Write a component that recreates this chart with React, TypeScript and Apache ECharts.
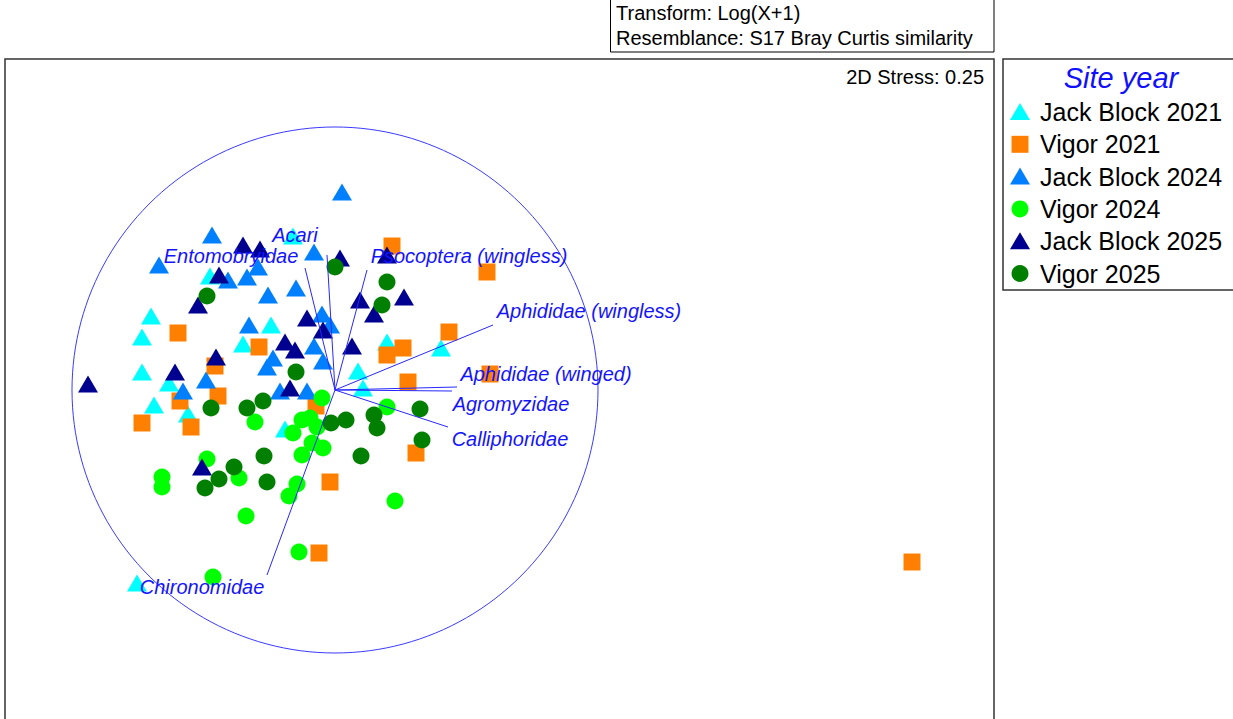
import React, { useEffect, useRef } from 'react';
import * as echarts from 'echarts';

// nMDS ordination coordinates (circle of radius 2.63 centred on the origin)
const seriesNames = ['Jack Block 2021', 'Vigor 2021', 'Jack Block 2024', 'Vigor 2024', 'Jack Block 2025', 'Vigor 2025'];
const seriesColors = ['#00ffff', '#ff8000', '#0080ff', '#00ff00', '#000090', '#007f00'];
const seriesSymbols = ['triangle', 'rect', 'triangle', 'circle', 'triangle', 'circle'];

const jackBlock2021 = [
  [-0.42, 1.54], [-1.25, 1.14], [-1.84, 0.74], [-1.93, 0.53], [-1.93, 0.18], [-1.66, 0.07],
  [-1.81, -0.15], [-1.47, -0.24], [-0.92, 0.46], [-0.64, 0.65], [0.52, 0.48], [1.06, 0.42],
  [0.23, 0.19], [0.28, 0.02], [-0.50, -0.39], [-1.98, -1.93],
];
const vigor2021 = [
  [0.57, 1.44], [1.52, 1.18], [1.14, 0.58], [-1.57, 0.57], [0.68, 0.42], [0.52, 0.35],
  [0.73, 0.08], [1.55, 0.16], [-0.76, 0.43], [-1.20, 0.24], [-1.17, -0.06], [-1.55, -0.11],
  [-1.93, -0.33], [-1.44, -0.37], [-0.19, -0.16], [0.81, -0.63], [-0.05, -0.92], [-0.16, -1.63],
  [5.77, -1.72],
];
const jackBlock2024 = [
  [0.07, 1.98], [-1.23, 1.55], [-1.76, 1.25], [-0.21, 1.38], [-0.77, 1.23], [-1.07, 1.10],
  [-0.88, 1.13], [-0.67, 0.95], [-0.39, 1.02], [-0.86, 0.65], [-0.13, 0.76], [-0.05, 0.65],
  [-0.21, 0.44], [-0.62, 0.32], [-0.68, 0.23], [-0.12, 0.29], [-0.55, -0.01], [-0.28, -0.01],
  [-1.29, 0.10], [-1.52, -0.01],
];
const vigor2024 = [
  [-0.13, -0.08], [-0.80, -0.32], [0.52, -0.17], [-0.33, -0.30], [-0.25, -0.28], [-0.18, -0.37],
  [-0.42, -0.43], [-0.23, -0.53], [-0.12, -0.58], [-0.33, -0.65], [-1.28, -0.69], [-1.73, -0.87],
  [-1.73, -0.97], [-0.96, -0.88], [-0.38, -0.94], [-0.46, -1.06], [0.60, -1.11], [-0.89, -1.26],
  [-0.36, -1.62], [-1.22, -1.87],
];
const jackBlock2025 = [
  [-2.47, 0.06], [-0.92, 1.45], [-0.75, 1.41], [-1.16, 1.15], [0.05, 1.32], [0.52, 1.35],
  [-1.37, 0.85], [-0.28, 0.72], [-0.12, 0.60], [0.25, 0.90], [0.39, 0.76], [0.69, 0.93],
  [0.17, 0.44], [-0.50, 0.48], [-0.40, 0.40], [-0.45, 0.02], [-1.60, 0.18], [-1.19, 0.33],
  [-1.33, -0.77],
];
const vigor2025 = [
  [0.00, 1.23], [-1.28, 0.94], [0.52, 1.08], [0.47, 0.85], [-0.39, 0.18], [-1.24, -0.18],
  [-0.88, -0.18], [-0.72, -0.11], [-0.04, -0.33], [0.11, -0.30], [0.39, -0.25], [0.42, -0.38],
  [0.85, -0.19], [0.87, -0.50], [-0.71, -0.66], [0.26, -0.66], [-1.01, -0.77], [-1.16, -0.89],
  [-1.30, -0.98], [-0.68, -0.92],
];
const seriesData = [jackBlock2021, vigor2021, jackBlock2024, vigor2024, jackBlock2025, vigor2025];

// Pearson correlation vectors: end point and label position
const vectorNames = [
  'Acari', 'Entomobryidae', 'Psocoptera (wingless)', 'Aphididae (wingless)',
  'Aphididae (winged)', 'Agromyzidae', 'Calliphoridae', 'Chironomidae',
];
const vectorEnds = [
  [-0.08, 1.35], [-0.30, 1.22], [0.32, 1.20], [1.58, 0.65],
  [1.22, 0.03], [1.17, -0.01], [1.13, -0.37], [-0.68, -1.85],
];
const vectorLabels = [
  [-0.40, 1.55], [-1.04, 1.34], [1.34, 1.34], [2.54, 0.79],
  [2.11, 0.16], [1.76, -0.14], [1.75, -0.49], [-1.33, -1.97],
];
const circleRadius = 2.63;

const headerLines = ['Transform: Log(X+1)', 'Resemblance: S17 Bray Curtis similarity'];
const stressText = '2D Stress: 0.25';
const legendTitle = 'Site year';

const FONT = '"Liberation Sans", Arial, sans-serif';
const BLUE = '#1414ff';

export default function App() {
  const ref = useRef<HTMLDivElement>(null);

  useEffect(() => {
    const chart = echarts.init(ref.current!, null, { renderer: 'svg' });

    const scatterSeries = seriesNames.map((name, i) => ({
      name,
      type: 'scatter',
      data: seriesData[i],
      symbol: seriesSymbols[i],
      symbolSize: seriesSymbols[i] === 'triangle' ? [20, 17] : 17,
      itemStyle: { color: seriesColors[i], opacity: 1 },
      emphasis: { disabled: true },
      z: 2,
    }));

    const legendEls: any[] = [];
    seriesNames.forEach((name, i) => {
      const cy = 112 + i * 32.3;
      const cx = 1020;
      const col = seriesColors[i];
      if (seriesSymbols[i] === 'triangle') {
        legendEls.push({ type: 'polygon', shape: { points: [[cx - 10, cy + 8], [cx + 10, cy + 8], [cx, cy - 9]] }, style: { fill: col } });
      } else if (seriesSymbols[i] === 'rect') {
        legendEls.push({ type: 'rect', shape: { x: cx - 8.5, y: cy - 8.5, width: 17, height: 17 }, style: { fill: col } });
      } else {
        legendEls.push({ type: 'circle', shape: { cx, cy, r: 8.5 }, style: { fill: col } });
      }
      legendEls.push({
        type: 'text', x: 1040, y: cy,
        style: { text: name, font: `25px ${FONT}`, fill: '#000', verticalAlign: 'middle', align: 'left' },
      });
    });

    const option: any = {
      animation: false,
      backgroundColor: '#fff',
      grid: { left: 5, top: 59, width: 989, height: 660, show: false },
      xAxis: { type: 'value', min: -3.30, max: 6.59, show: false },
      yAxis: { type: 'value', min: -3.29, max: 3.31, show: false },
      series: [
        {
          type: 'custom',
          name: 'circle',
          data: [[0, 0, circleRadius]],
          silent: true,
          z: 1,
          renderItem: (params: any, api: any) => {
            const c = api.coord([api.value(0), api.value(1)]);
            const r = api.size([api.value(2), 0])[0];
            return { type: 'circle', shape: { cx: c[0], cy: c[1], r }, style: { fill: 'none', stroke: '#3a3aff', lineWidth: 1 } };
          },
        },
        ...scatterSeries,
        {
          type: 'custom',
          name: 'vectors',
          data: vectorEnds.map((e, i) => [e[0], e[1], vectorLabels[i][0], vectorLabels[i][1]]),
          silent: true,
          z: 5,
          renderItem: (params: any, api: any) => {
            const o = api.coord([0, 0]);
            const e = api.coord([api.value(0), api.value(1)]);
            const l = api.coord([api.value(2), api.value(3)]);
            return {
              type: 'group',
              children: [
                { type: 'line', shape: { x1: o[0], y1: o[1], x2: e[0], y2: e[1] }, style: { stroke: '#2828ff', lineWidth: 1 } },
                {
                  type: 'text', x: l[0], y: l[1],
                  style: { text: vectorNames[params.dataIndex], font: `italic 20px ${FONT}`, fill: BLUE, align: 'center', verticalAlign: 'middle' },
                },
              ],
            };
          },
        },
      ],
      graphic: [
        { type: 'rect', shape: { x: 5, y: 59, width: 989, height: 700 }, style: { fill: 'none', stroke: '#333', lineWidth: 1.5 }, z: 10 },
        { type: 'rect', shape: { x: 610.5, y: -2, width: 383.5, height: 54 }, style: { fill: 'none', stroke: '#000', lineWidth: 1 }, z: 10 },
        { type: 'text', x: 616, y: 13, style: { text: headerLines[0], font: `20px ${FONT}`, fill: '#000', verticalAlign: 'middle' }, z: 10 },
        { type: 'text', x: 616, y: 38, style: { text: headerLines[1], font: `20px ${FONT}`, fill: '#000', verticalAlign: 'middle' }, z: 10 },
        { type: 'text', x: 984, y: 77, style: { text: stressText, font: `20px ${FONT}`, fill: '#000', align: 'right', verticalAlign: 'middle' }, z: 10 },
        { type: 'rect', shape: { x: 1003, y: 59, width: 240, height: 231 }, style: { fill: 'none', stroke: '#333', lineWidth: 1.5 }, z: 10 },
        { type: 'text', x: 1121, y: 78, style: { text: legendTitle, font: `italic 29px ${FONT}`, fill: '#1010ff', align: 'center', verticalAlign: 'middle' }, z: 10 },
        ...legendEls.map((el) => ({ ...el, z: 10 })),
      ],
    };

    chart.setOption(option);
    return () => chart.dispose();
  }, []);

  return (
    <div
      ref={ref}
      style={{ position: 'fixed', left: 0, top: 0, width: 1233, height: 719, background: '#fff' }}
    />
  );
}
